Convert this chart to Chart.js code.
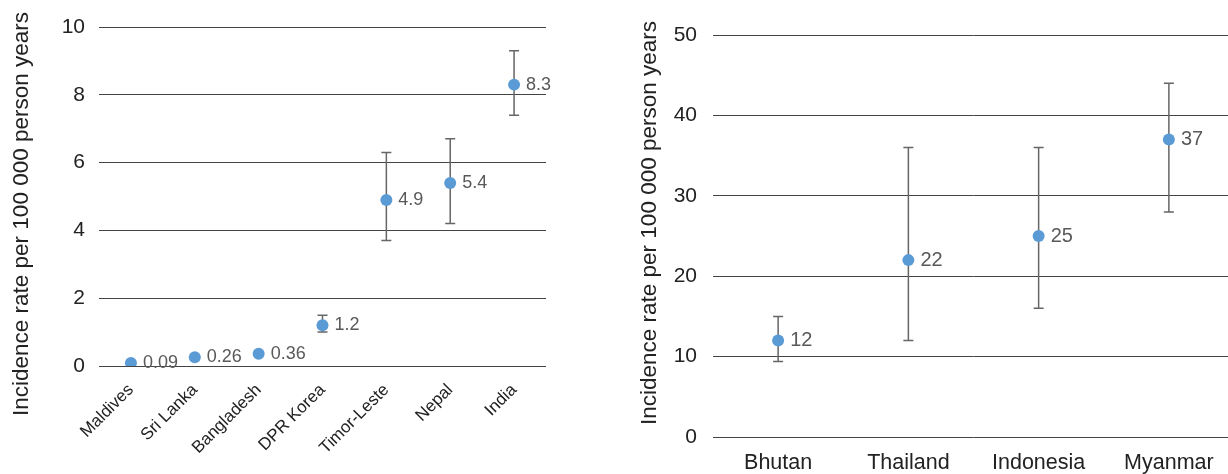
<!DOCTYPE html>
<html>
<head>
<meta charset="utf-8">
<script src="https://cdn.jsdelivr.net/npm/chart.js@4.4.0/dist/chart.umd.min.js"></script>
<style>
html, body { margin:0; padding:0; background:#fff; overflow:hidden; }
#leftBox { position:absolute; left:0; top:0; width:560px; height:474px; }
#rightBox { position:absolute; left:600px; top:0; width:628px; height:474px; overflow:hidden; }
</style>
</head>
<body>
<div id="leftBox"><canvas id="leftChart" width="560" height="474"></canvas></div>
<div id="rightBox"><canvas id="rightChart" width="640" height="474"></canvas></div>
<script>
// data
var leftCountries = ['Maldives', 'Sri Lanka', 'Bangladesh', 'DPR Korea', 'Timor-Leste', 'Nepal', 'India'];
var leftRates = [0.09, 0.26, 0.36, 1.2, 4.9, 5.4, 8.3];
var leftLow = [null, null, null, 1.0, 3.7, 4.2, 7.4];
var leftHigh = [null, null, null, 1.5, 6.3, 6.7, 9.3];

var rightCountries = ['Bhutan', 'Thailand', 'Indonesia', 'Myanmar'];
var rightRates = [12, 22, 25, 37];
var rightLow = [9.4, 12, 16, 28];
var rightHigh = [15, 36, 36, 44];

var yTitle = 'Incidence rate per 100 000 person years';
var fontFam = '"Liberation Sans", Arial, Helvetica, sans-serif';
var dotColor = '#5B9BD5';

var errorBars = {
  id: 'errorBars',
  beforeDatasetsDraw: function(chart, args, opts) {
    var ctx = chart.ctx, xs = chart.scales.x, ys = chart.scales.y;
    ctx.save();
    ctx.strokeStyle = '#666';
    ctx.lineWidth = 1.5;
    for (var i = 0; i < opts.low.length; i++) {
      if (opts.low[i] == null) continue;
      var px = xs.getPixelForValue(i);
      var y1 = ys.getPixelForValue(opts.low[i]);
      var y2 = ys.getPixelForValue(opts.high[i]);
      ctx.beginPath();
      ctx.moveTo(px, y1); ctx.lineTo(px, y2);
      ctx.moveTo(px - 5, y1); ctx.lineTo(px + 5, y1);
      ctx.moveTo(px - 5, y2); ctx.lineTo(px + 5, y2);
      ctx.stroke();
    }
    ctx.restore();
  },
  afterDatasetsDraw: function(chart, args, opts) {
    var ctx = chart.ctx;
    var pts = chart.getDatasetMeta(0).data;
    var vals = chart.data.datasets[0].data;
    ctx.save();
    ctx.fillStyle = '#595959';
    ctx.font = opts.fontSize + 'px ' + fontFam;
    ctx.textBaseline = 'middle';
    ctx.textAlign = 'left';
    for (var i = 0; i < pts.length; i++) {
      ctx.fillText(String(vals[i]), pts[i].x + 12, pts[i].y);
    }
    // axis title, centred where the original puts it
    ctx.fillStyle = '#222';
    ctx.font = '22.5px ' + fontFam;
    ctx.textAlign = 'center';
    ctx.translate(opts.titleX, opts.titleY);
    ctx.rotate(-Math.PI / 2);
    ctx.fillText(yTitle, 0, 0);
    ctx.restore();
  }
};

function makeChart(id, cats, rates, low, high, opt) {
  var ctx = document.getElementById(id).getContext('2d');
  return new Chart(ctx, {
    type: 'line',
    data: {
      labels: cats,
      datasets: [{
        data: rates,
        showLine: false,
        pointRadius: 6,
        pointHoverRadius: 6,
        pointBackgroundColor: dotColor,
        pointBorderColor: dotColor,
        pointBorderWidth: 0
      }]
    },
    options: {
      responsive: false,
      animation: false,
      layout: { padding: opt.padding },
      plugins: {
        legend: { display: false },
        tooltip: { enabled: false },
        errorBars: { low: low, high: high, fontSize: opt.labelSize, titleX: opt.titleX, titleY: opt.titleY }
      },
      scales: {
        x: {
          offset: true,
          grid: { display: false },
          border: { display: false },
          ticks: {
            color: '#222',
            font: { family: fontFam, size: opt.xSize },
            maxRotation: opt.rot, minRotation: opt.rot,
            padding: opt.xPad
          },
          afterFit: function(s) { s.height = opt.xHeight; }
        },
        y: {
          min: 0, max: opt.max,
          grid: { color: '#444', drawTicks: false },
          border: { display: false },
          ticks: {
            stepSize: opt.step,
            color: '#222',
            font: { family: fontFam, size: 21 },
            padding: opt.yPad
          },
          afterFit: function(s) { s.width = opt.yWidth; }
        }
      }
    },
    plugins: [errorBars]
  });
}

makeChart('leftChart', leftCountries, leftRates, leftLow, leftHigh, {
  padding: { top: 27, right: 14, left: 0, bottom: 0 },
  labelSize: 18, xSize: 17, rot: 45, xPad: 6, xHeight: 108,
  max: 10, step: 2, yPad: 14, yWidth: 99, titleX: 22, titleY: 214
});

makeChart('rightChart', rightCountries, rightRates, rightLow, rightHigh, {
  padding: { top: 35, right: 1, left: 0, bottom: 0 },
  labelSize: 20, xSize: 21.5, rot: 0, xPad: 5, xHeight: 37,
  max: 50, step: 10, yPad: 16, yWidth: 113, titleX: 50, titleY: 223
});
</script>
</body>
</html>
